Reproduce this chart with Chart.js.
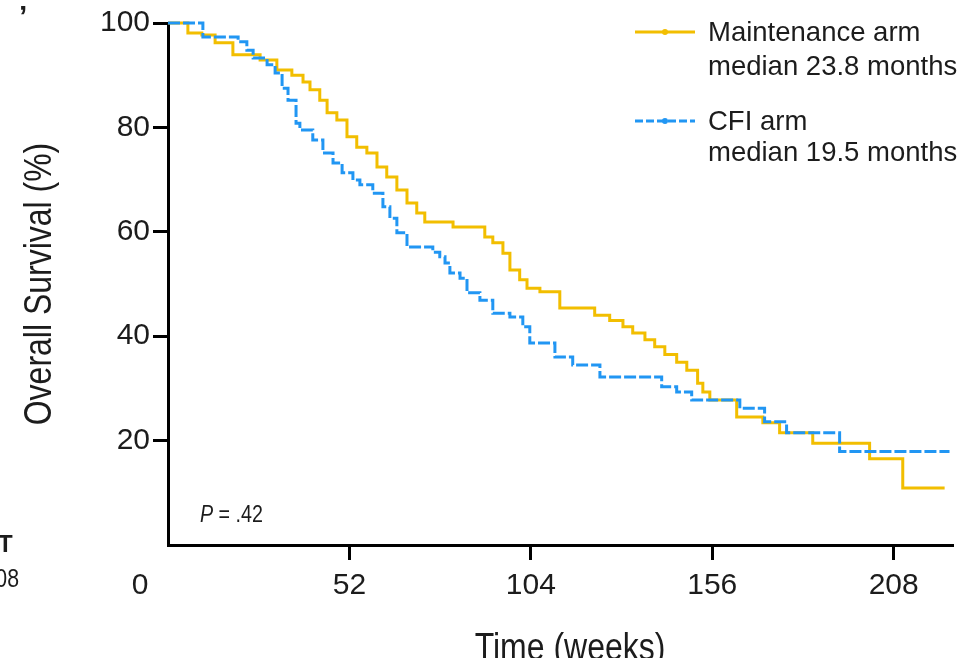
<!DOCTYPE html>
<html>
<head>
<meta charset="utf-8">
<title>Overall survival</title>
<script src="https://cdn.jsdelivr.net/npm/chart.js@4.4.1/dist/chart.umd.min.js"></script>
<style>
  html, body { margin: 0; padding: 0; background: #fff; }
  #wrap { width: 979px; height: 658px; position: relative; }
</style>
</head>
<body>
<div id="wrap"><canvas id="osChart" width="979" height="658"></canvas></div>
<script>
/* Kaplan–Meier estimates, time in weeks, survival in % */
const maintWeeks = [0, 5.7, 9.7, 13.5, 18.6, 26.4, 31.2, 35.5, 38.7, 40.7, 43.5, 45.6, 48.4, 51.3, 54.1,
  57.0, 59.9, 62.7, 65.6, 68.5, 71.3, 73.6, 81.7, 90.8, 93.1, 96.0, 98.0, 100.8, 102.9, 106.6,
  112.3, 122.3, 126.6, 130.4, 133.2, 136.7, 139.5, 142.4, 145.8, 148.7, 151.8, 153.3, 155.3,
  163.0, 170.5, 175.3, 184.8, 201.1, 210.6, 222.6];
const maintSurv = [100, 98.1, 97.7, 96.2, 93.9, 92.9, 91.0, 90.0, 88.7, 87.2, 85.2, 82.8, 81.4, 78.2, 76.2,
  75.1, 72.4, 70.5, 68.0, 65.5, 63.6, 61.9, 60.9, 59.0, 57.9, 55.9, 52.7, 50.8, 49.2, 48.5,
  45.4, 44.0, 43.0, 41.8, 40.6, 39.3, 38.0, 36.5, 35.0, 33.5, 31.0, 29.3, 27.8,
  24.5, 23.4, 21.5, 19.5, 16.5, 10.9, 10.9];

const cfiWeeks = [0, 10.0, 20.1, 22.6, 24.4, 28.4, 30.7, 32.7, 34.4, 36.7, 37.8, 41.5, 44.4, 47.3, 49.9,
  53.0, 55.0, 58.7, 61.6, 63.6, 65.6, 68.5, 75.9, 77.9, 79.4, 80.8, 83.7, 85.7, 89.4, 93.1,
  98.0, 101.7, 103.7, 110.9, 116.0, 123.8, 141.5, 145.8, 150.1, 163.9, 171.0, 177.3, 192.5, 224.0];
const cfiSurv = [100, 97.3, 96.4, 94.8, 93.3, 92.0, 90.4, 87.5, 85.2, 80.8, 79.5, 77.6, 75.1, 73.2, 71.3,
  69.9, 69.0, 67.4, 64.8, 62.6, 59.8, 57.1, 56.1, 55.2, 54.0, 52.1, 51.1, 48.3, 46.9, 44.4,
  43.7, 41.8, 38.7, 36.0, 34.5, 32.2, 30.3, 29.3, 27.8, 26.2, 23.6, 21.5, 17.9, 17.9];

const xTicks = [0, 52, 104, 156, 208];
const yTicks = [0, 20, 40, 60, 80, 100];

const armLabels = [
  ['Maintenance arm', 'median 23.8 months'],
  ['CFI arm', 'median 19.5 months'],
];
const pValue = '.42';

const YELLOW = '#F2BE00';
const BLUE   = '#2196F3';
const INK    = '#1c1c1c';
const SANS   = '"Liberation Sans", Arial, Helvetica, sans-serif';
const SQUEEZE = 0.82;   // horizontal squeeze for the condensed axis lettering

const toPoints = (xs, ys) => xs.map((x, i) => ({ x, y: ys[i] }));
const hideZero = c => c.tick.value === 0 ? 'rgba(0,0,0,0)' : '#000';

// condensed text: squeeze along the writing direction
function narrowText(ctx, text, x, y, angle) {
  ctx.save();
  ctx.translate(x, y);
  if (angle) ctx.rotate(angle);
  ctx.scale(SQUEEZE, 1);
  ctx.fillText(text, 0, 0);
  ctx.restore();
}

/* legend, p-value and axis titles drawn on top of the plot */
const annotations = {
  id: 'annotations',
  afterDraw(chart) {
    const ctx = chart.ctx;
    ctx.save();
    ctx.fillStyle = INK;

    // legend
    const rows = [
      { color: YELLOW, dash: [], y: 32, gap: 35 },
      { color: BLUE, dash: [8, 3], y: 121, gap: 32 },
    ];
    rows.forEach((r, i) => {
      ctx.strokeStyle = r.color;
      ctx.lineWidth = 3;
      ctx.setLineDash(r.dash);
      ctx.beginPath();
      ctx.moveTo(635, r.y);
      ctx.lineTo(695, r.y);
      ctx.stroke();
      ctx.setLineDash([]);
      ctx.fillStyle = r.color;
      ctx.beginPath();
      ctx.arc(665, r.y, 3, 0, Math.PI * 2);
      ctx.fill();

      ctx.fillStyle = INK;
      ctx.font = '27.5px ' + SANS;
      ctx.textBaseline = 'middle';
      ctx.textAlign = 'left';
      ctx.fillText(armLabels[i][0], 708, r.y + 1);
      ctx.fillText(armLabels[i][1], 708, r.y + r.gap);
    });

    // P value
    ctx.textBaseline = 'middle';
    ctx.textAlign = 'left';
    ctx.font = 'italic 24px ' + SANS;
    narrowText(ctx, 'P', 200, 515);
    const pw = ctx.measureText('P').width * SQUEEZE;
    ctx.font = '24px ' + SANS;
    narrowText(ctx, ' = ' + pValue, 200 + pw, 515);

    // shared origin label
    ctx.font = '30px ' + SANS;
    ctx.textAlign = 'center';
    ctx.fillText('0', 140, 586);

    // axis titles
    ctx.font = '39px ' + SANS;
    ctx.textAlign = 'center';
    ctx.textBaseline = 'alphabetic';
    narrowText(ctx, 'Time (weeks)', 570, 660);
    narrowText(ctx, 'Overall Survival (%)', 51, 284, -Math.PI / 2);

    // fragments of the neighbouring panel at the left edge
    ctx.font = 'bold 24px ' + SANS;
    ctx.textAlign = 'left';
    ctx.textBaseline = 'middle';
    ctx.fillText('T', -2, 545);
    ctx.font = '26px ' + SANS;
    ctx.textAlign = 'right';
    narrowText(ctx, '208', 19, 580);
    ctx.font = 'bold 30px ' + SANS;
    ctx.textAlign = 'left';
    ctx.fillText('\u2019', 19, 18);

    ctx.restore();
  }
};

new Chart(document.getElementById('osChart'), {
  type: 'line',
  data: {
    datasets: [
      {
        label: armLabels[0].join(' '),
        data: toPoints(maintWeeks, maintSurv),
        borderColor: YELLOW,
        borderWidth: 3,
        stepped: true,
        pointRadius: 0,
        fill: false,
        clip: false,
        order: 1,
      },
      {
        label: armLabels[1].join(' '),
        data: toPoints(cfiWeeks, cfiSurv),
        borderColor: BLUE,
        borderWidth: 3,
        borderDash: [12, 3],
        stepped: true,
        pointRadius: 0,
        fill: false,
        clip: false,
        order: 0,
      },
    ],
  },
  options: {
    responsive: false,
    animation: false,
    events: [],
    layout: { padding: { top: 23, right: 26, left: 0, bottom: 0 } },
    plugins: { legend: { display: false }, tooltip: { enabled: false } },
    scales: {
      x: {
        type: 'linear',
        min: 0,
        max: 225,
        afterBuildTicks: s => { s.ticks = xTicks.map(v => ({ value: v })); },
        afterFit: s => { s.height = 113; },
        border: { display: true, color: '#000', width: 3 },
        grid: { drawOnChartArea: false, drawTicks: true, tickLength: 15, tickWidth: 3, tickColor: hideZero },
        ticks: {
          callback: v => v === 0 ? '' : v,
          color: INK,
          padding: 8,
          maxRotation: 0,
          font: { family: SANS, size: 30 },
        },
      },
      y: {
        min: 0,
        max: 100,
        afterBuildTicks: s => { s.ticks = yTicks.map(v => ({ value: v })); },
        afterFit: s => { s.width = 168; },
        border: { display: true, color: '#000', width: 3 },
        grid: { drawOnChartArea: false, drawTicks: true, tickLength: 15, tickWidth: 3, tickColor: hideZero },
        ticks: {
          callback: v => v === 0 ? '' : v,
          color: INK,
          padding: 3,
          font: { family: SANS, size: 30 },
        },
      },
    },
  },
  plugins: [annotations],
});
</script>
</body>
</html>
